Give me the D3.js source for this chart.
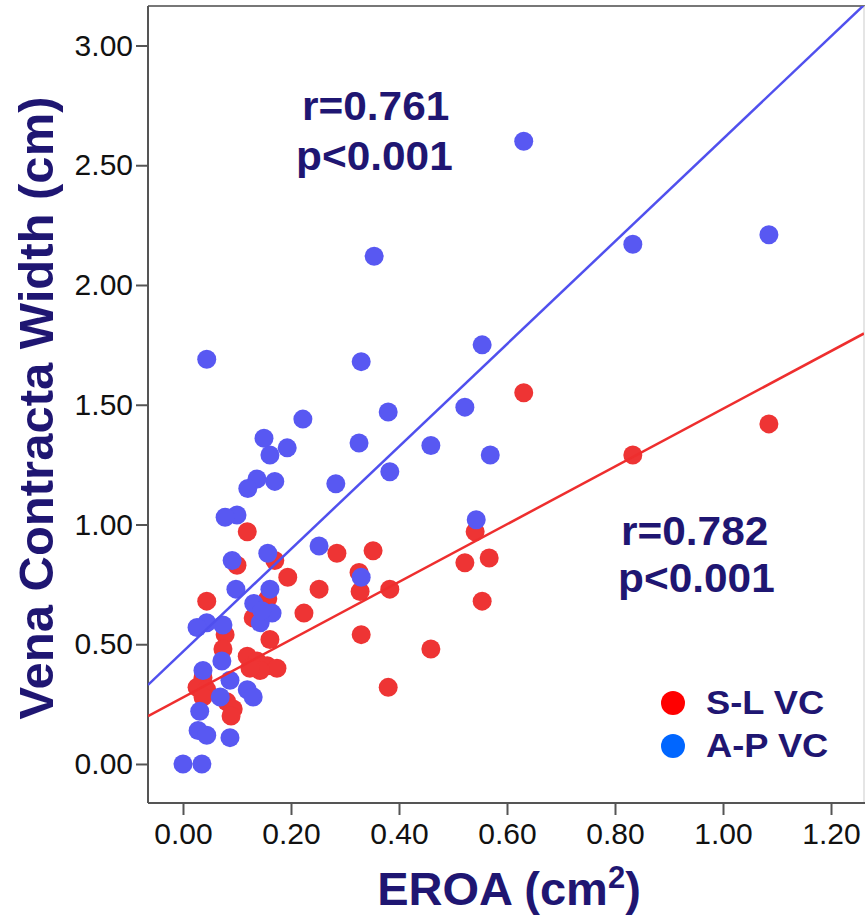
<!DOCTYPE html>
<html><head><meta charset="utf-8">
<script src="https://cdn.jsdelivr.net/npm/d3@7"></script>
<style>body{margin:0;background:#fff}svg{display:block}</style>
</head><body><svg id="c" width="865" height="917"></svg>
<script>
// A-P vena contracta (blue)
const apEroa=[1.085,0.833,0.631,0.569,0.554,0.543,0.522,0.459,0.383,0.380,0.354,0.330,0.326,0.330,0.283,0.252,0.222,0.193,0.170,0.150,0.161,0.157,0.161,0.165,0.143,0.131,0.146,0.137,0.120,0.100,0.078,0.091,0.098,0.072,0.087,0.119,0.130,0.069,0.087,0.044,0.026,0.074,0.037,0.031,0.028,0.044,0.000,0.035,0.044];
const apVC  =[2.21,2.17,2.60,1.29,1.75,1.02,1.49,1.33,1.22,1.47,2.12,1.68,1.34,0.78,1.17,0.91,1.44,1.32,1.18,1.36,1.29,0.88,0.73,0.63,0.59,0.67,0.64,1.19,1.15,1.04,1.03,0.85,0.73,0.43,0.35,0.31,0.28,0.28,0.11,0.59,0.57,0.58,0.39,0.22,0.14,0.12,0.00,0.00,1.69];
// S-L vena contracta (red)
const slEroa=[1.085,0.833,0.631,0.567,0.554,0.541,0.522,0.459,0.383,0.380,0.352,0.326,0.328,0.330,0.285,0.252,0.224,0.194,0.170,0.119,0.100,0.044,0.157,0.130,0.161,0.078,0.074,0.119,0.137,0.156,0.174,0.143,0.124,0.037,0.026,0.044,0.037,0.081,0.093,0.089];
const slVC  =[1.42,1.29,1.55,0.86,0.68,0.97,0.84,0.48,0.73,0.32,0.89,0.80,0.72,0.54,0.88,0.73,0.63,0.78,0.85,0.97,0.83,0.68,0.69,0.61,0.52,0.54,0.48,0.45,0.43,0.41,0.40,0.39,0.40,0.36,0.32,0.31,0.28,0.26,0.23,0.20];
// fit lines
const slFit=[0.278,1.205]; // intercept, slope
const apFit=[0.469,2.141];
const yTicks=[0,0.5,1.0,1.5,2.0,2.5,3.0];
const xTicks=[0,0.2,0.4,0.6,0.8,1.0,1.2];
const legendLabels=["S-L VC","A-P VC"];
const annoAP=["r=0.761","p<0.001"];
const annoSL=["r=0.782","p<0.001"];

const svg=d3.select("#c");
const L=148,T=6,R=864,B=803;
const x=d3.scaleLinear().domain([-0.0648,1.2611]).range([L,R]);
const y=d3.scaleLinear().domain([-0.1629,3.1649]).range([B,T]);
const navy="#1f1672", font="'Liberation Sans', Arial, sans-serif";
const blue="#5858f2", red="#ee3434";

svg.append("defs").append("clipPath").attr("id","clip")
  .append("rect").attr("x",L).attr("y",T).attr("width",R-L).attr("height",B-T);

// frame
svg.append("line").attr("x1",L).attr("x2",865).attr("y1",T).attr("y2",T).attr("stroke","#777").attr("stroke-width",2);
svg.append("line").attr("x1",R).attr("x2",R).attr("y1",T).attr("y2",B).attr("stroke","#ddd").attr("stroke-width",1.5);

const ya=svg.append("g").attr("transform",`translate(${L},0)`)
  .call(d3.axisLeft(y).tickValues(yTicks).tickFormat(d3.format(".2f")).tickSize(12).tickPadding(3).tickSizeOuter(0));
const xa=svg.append("g").attr("transform",`translate(0,${B})`)
  .call(d3.axisBottom(x).tickValues(xTicks).tickFormat(d3.format(".2f")).tickSize(12).tickPadding(8).tickSizeOuter(0));
[ya,xa].forEach(g=>{
  g.select(".domain").attr("stroke","#555").attr("stroke-width",2);
  g.selectAll(".tick line").attr("stroke","#555").attr("stroke-width",2);
  g.selectAll("text").attr("font-family",font).attr("font-size",30).attr("fill","#111");
});
ya.select(".domain").attr("d",`M0,${T}V${B}`);
xa.select(".domain").attr("d",`M${L},0H865`);

// points
const sl=slEroa.map((e,i)=>({e,v:slVC[i]}));
const ap=apEroa.map((e,i)=>({e,v:apVC[i]}));
const pg=svg.append("g").attr("clip-path","url(#clip)");
pg.selectAll(".sl").data(sl).join("circle").attr("cx",d=>x(d.e)).attr("cy",d=>y(d.v)).attr("r",9.5).attr("fill",red);
pg.selectAll(".ap").data(ap).join("circle").attr("cx",d=>x(d.e)).attr("cy",d=>y(d.v)).attr("r",9.5).attr("fill",blue);

// fit lines
const dom=x.domain();
[[slFit,"#ee2e2e"],[apFit,"#5050ee"]].forEach(([f,c])=>{
  pg.append("line").attr("x1",x(dom[0])).attr("y1",y(f[0]+f[1]*dom[0]))
    .attr("x2",x(dom[1])).attr("y2",y(f[0]+f[1]*dom[1]))
    .attr("stroke",c).attr("stroke-width",2.5);
});

// annotations
function anno(lines,pos){
  lines.forEach((t,i)=>{
    svg.append("text").attr("transform",`translate(${pos[i][0]},${pos[i][1]}) scale(1.06,1)`)
      .attr("font-family",font).attr("font-weight","bold").attr("font-size",40).attr("fill",navy).text(t);
  });
}
anno(annoAP,[[302,120],[296,170]]);
anno(annoSL,[[621,545],[618,592]]);

// legend
[[red==null?"":"#ff0000",703],["#0066ff",746]].forEach(([c,cy],i)=>{
  svg.append("circle").attr("cx",673).attr("cy",cy).attr("r",12).attr("fill",c);
  svg.append("text").attr("transform",`translate(706,${cy+11}) scale(1.1,1)`)
    .attr("font-family",font).attr("font-weight","bold").attr("font-size",33).attr("fill",navy).text(legendLabels[i]);
});

// axis titles
svg.append("text").attr("transform","translate(53,408) rotate(-90)").attr("text-anchor","middle")
  .attr("font-family",font).attr("font-weight","bold").attr("font-size",49).attr("fill",navy)
  .text("Vena Contracta Width (cm)");
const xt=svg.append("text").attr("x",509).attr("y",905).attr("text-anchor","middle")
  .attr("font-family",font).attr("font-weight","bold").attr("font-size",47).attr("fill",navy);
xt.append("tspan").text("EROA (cm");
xt.append("tspan").attr("font-size",31).attr("dy",-17).text("2");
xt.append("tspan").attr("dy",17).text(")");
</script></body></html>
